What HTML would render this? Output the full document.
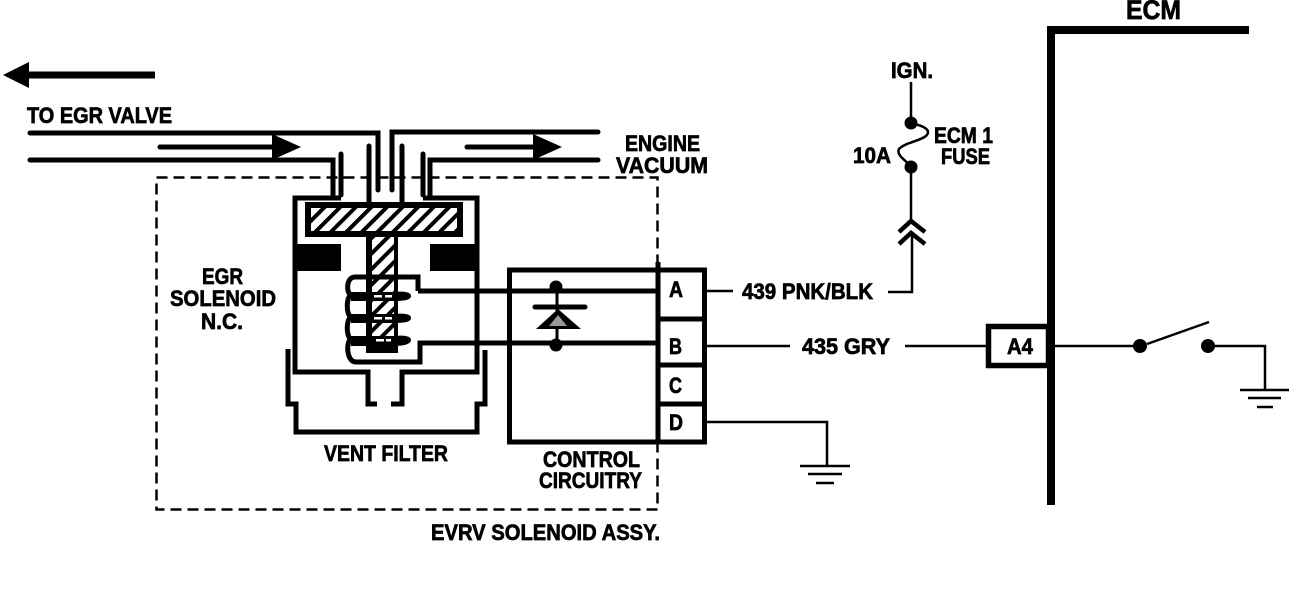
<!DOCTYPE html>
<html><head><meta charset="utf-8"><style>
html,body{margin:0;padding:0;background:#fff;width:1312px;height:606px;overflow:hidden}
svg{display:block}
text{font-family:"Liberation Sans",sans-serif;font-weight:bold;font-size:22px;fill:#000;stroke:#000;stroke-width:.7}
</style></head><body>
<svg width="1312" height="606" viewBox="0 0 1312 606" xmlns="http://www.w3.org/2000/svg">
<defs>
<pattern id="h" patternUnits="userSpaceOnUse" width="11" height="11" patternTransform="rotate(45)">
<rect width="11" height="11" fill="#fff"/><rect width="4" height="11" fill="#000"/>
</pattern>
</defs>
<g fill="none" stroke="#000" stroke-linecap="round" stroke-linejoin="miter">
<path d="M28 75H155" stroke-width="7" stroke-linecap="butt"/>
<g stroke-width="5">
<path d="M30 133H378V190"/>
<path d="M30 160H333V195"/>
<path d="M392 190V132H598"/>
<path d="M430 195V160H598"/>
<path d="M341 154V195"/><path d="M369 146V203"/><path d="M402 146V203"/><path d="M423 154V195"/>
<path d="M160 147H275"/><path d="M467 147H535"/>
</g>
<rect x="156.500" y="177.500" width="501" height="332" stroke-width="2.500" stroke-dasharray="11 6" stroke-linecap="butt"/>
<g stroke-width="5" stroke-linecap="butt">
<path d="M341 198H295V372H368V404H377"/>
<path d="M423 198H477V372H402V404H391"/>
<path d="M288 349V404H296V432H477V404H485V350"/>
</g>
</g>
<path d="M301 147 272 134V160Z"/>
<path d="M562 147 533 134V160Z"/>
<path d="M3 75 29 62V88Z"/>
<!-- plate + stem -->
<rect x="305" y="202" width="158" height="35"/>
<rect x="311" y="208" width="146" height="23" fill="url(#h)"/>
<rect x="366" y="236" width="32" height="117"/>
<rect x="372" y="237" width="22" height="108" fill="url(#h)"/>
<rect x="297" y="244" width="44" height="27"/>
<rect x="430" y="244" width="47" height="27"/>
<!-- coil -->
<g fill="none" stroke="#000" stroke-width="5">
<path d="M418 291V277H355C346 277 346 293 351 295C346 297 346 315 351 317C346 319 346 337 351 339C346 341 346 362 356 362H420V343H658"/>
<path d="M418 291H658"/>
</g>
<g>
<path d="M351 292H394C404 291 411 292 411 296 411 300 404 301 394 301H351Z"/>
<path d="M351 314H394C404 313 411 314 411 318 411 322 404 323 394 323H351Z"/>
<path d="M351 336H394C404 335 411 336 411 340 411 344 404 346 394 346H351Z"/>
</g>
<g fill="#fff">
<rect x="374" y="295" width="8" height="2.500"/><rect x="385" y="295" width="7" height="2.500"/>
<rect x="374" y="317" width="8" height="2.500"/><rect x="385" y="317" width="7" height="2.500"/>
<rect x="376" y="339" width="8" height="2.500"/><rect x="386" y="339" width="5" height="2.500"/>
</g>
<!-- control box -->
<g fill="none" stroke="#000" stroke-width="5">
<rect x="509.500" y="270" width="195" height="172"/>
<path d="M658 262V444M658 319H704M658 365H704M658 404H704"/>
</g>
<!-- diode -->
<g stroke="#000" fill="none">
<path d="M557 287V345" stroke-width="3"/>
<path d="M535 307H585" stroke-width="5" stroke-linecap="round"/>
</g>
<path d="M558 309 536 329H581Z"/>
<path d="M558 315 549 326H567Z" fill="#fff" opacity=".6"/>
<circle cx="556" cy="287" r="6.500"/><circle cx="556" cy="345" r="6.500"/>
<g fill="none" stroke="#000" stroke-width="2.500" stroke-linecap="butt">
<path d="M705 291H733"/><path d="M705 346H790"/><path d="M905 346H986"/>
<path d="M705 422H827V466"/><path d="M888 292H912V232"/>
<path d="M800 466H850"/><path d="M808 474H842"/><path d="M816 483H834"/>
<path d="M911 82V122"/><path d="M911 167V222"/>
<path d="M911 123C924 126 932 130 926 136C920 141 904 143 899 149C896 155 905 160 911 166"/>
<path d="M1055 346H1140"/><path d="M1208 346H1265V390"/>
<path d="M1240 390H1289"/><path d="M1248 398H1281"/><path d="M1257 407H1273"/>
<path d="M1147 344 1209 322"/>
</g>
<g fill="none" stroke="#000" stroke-width="4.500" stroke-linecap="butt">
<path d="M899 232 911 221 925 232"/><path d="M899 244 911 233 925 244"/>
</g>
<circle cx="911" cy="123" r="6.500"/><circle cx="911" cy="167" r="6.500"/>
<circle cx="1140" cy="346" r="7"/><circle cx="1208" cy="346" r="7"/>
<!-- ECM -->
<path d="M1051 505V30H1249" fill="none" stroke="#000" stroke-width="8"/>
<rect x="988.500" y="326.500" width="60" height="39" fill="#fff" stroke="#000" stroke-width="5.500"/>
<!-- labels -->
<text x="27" y="123" textLength="145" lengthAdjust="spacingAndGlyphs">TO EGR VALVE</text>
<text x="625" y="151" textLength="75" lengthAdjust="spacingAndGlyphs">ENGINE</text>
<text x="616" y="173" textLength="92" lengthAdjust="spacingAndGlyphs">VACUUM</text>
<text x="202" y="284" textLength="41" lengthAdjust="spacingAndGlyphs">EGR</text>
<text x="170" y="306" textLength="106" lengthAdjust="spacingAndGlyphs">SOLENOID</text>
<text x="201" y="329" textLength="42" lengthAdjust="spacingAndGlyphs">N.C.</text>
<text x="324" y="461" textLength="124" lengthAdjust="spacingAndGlyphs">VENT FILTER</text>
<text x="543" y="467" textLength="97" lengthAdjust="spacingAndGlyphs">CONTROL</text>
<text x="539" y="488" textLength="103" lengthAdjust="spacingAndGlyphs">CIRCUITRY</text>
<text x="431" y="540" textLength="229" lengthAdjust="spacingAndGlyphs">EVRV SOLENOID ASSY.</text>
<text x="891" y="78" textLength="42" lengthAdjust="spacingAndGlyphs">IGN.</text>
<text x="934" y="143" textLength="59" lengthAdjust="spacingAndGlyphs">ECM 1</text>
<text x="941" y="164" textLength="49" lengthAdjust="spacingAndGlyphs">FUSE</text>
<text x="853" y="163" textLength="38" lengthAdjust="spacingAndGlyphs">10A</text>
<text x="742" y="299" textLength="131" lengthAdjust="spacingAndGlyphs">439 PNK/BLK</text>
<text x="802" y="354" textLength="88" lengthAdjust="spacingAndGlyphs">435 GRY</text>
<text x="1007" y="354" textLength="26" lengthAdjust="spacingAndGlyphs">A4</text>
<text x="1126" y="19" textLength="55" lengthAdjust="spacingAndGlyphs" style="font-size:27px">ECM</text>
<text x="669" y="297" textLength="14" lengthAdjust="spacingAndGlyphs">A</text>
<text x="669" y="354" textLength="13" lengthAdjust="spacingAndGlyphs">B</text>
<text x="669" y="393" textLength="13" lengthAdjust="spacingAndGlyphs">C</text>
<text x="669" y="430" textLength="14" lengthAdjust="spacingAndGlyphs">D</text>
</svg>
</body></html>
